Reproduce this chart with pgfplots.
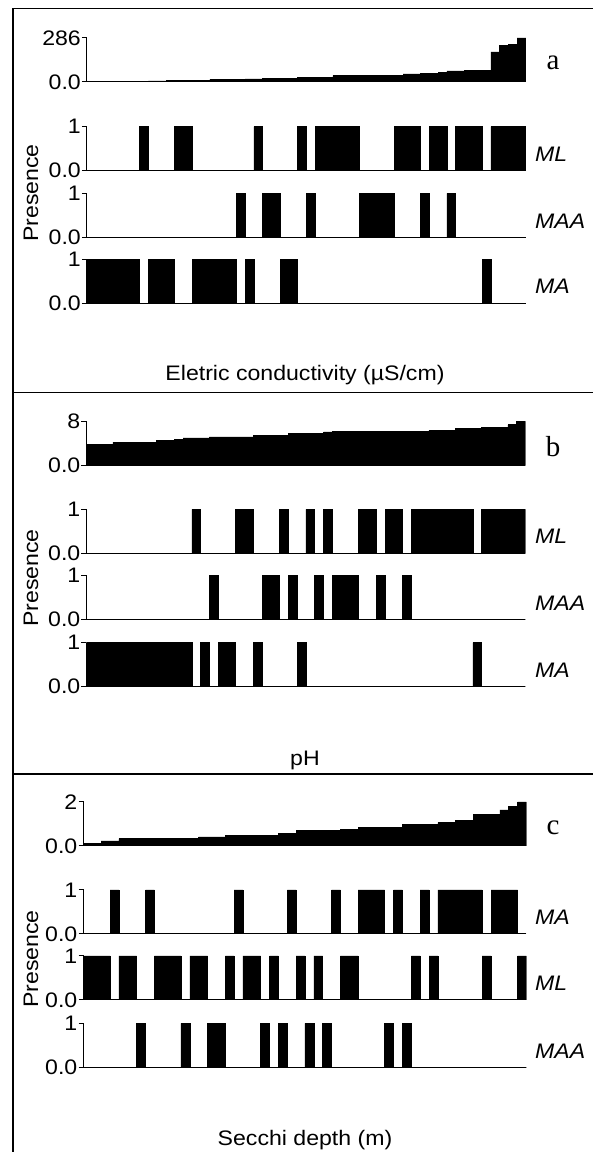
\documentclass[border=0pt]{standalone}
\usepackage{pgfplots}
\pgfplotsset{compat=1.18}
\usepackage{pgfplotstable}
\usepackage{fontspec}
\setmainfont{Liberation Sans}[FakeStretch=1.1]
\newfontfamily\serifletter{Liberation Serif}

% columns: site, gradient value (sorted), presence of ML, MAA, MA
\pgfplotstableread{
x g ML MAA MA
0 3 0 0 1
1 4 0 0 1
2 4 0 0 1
3 5 0 0 1
4 5 0 0 1
5 6 0 0 1
6 6 1 0 0
7 7 0 0 1
8 7 0 0 1
9 8 0 0 1
10 8 1 0 0
11 9 1 0 0
12 9 0 0 1
13 10 0 0 1
14 18 0 0 1
15 18 0 0 1
16 19 0 0 1
17 19 0 1 0
18 20 0 0 1
19 20 1 0 0
20 21 0 1 0
21 21 0 1 0
22 22 0 0 1
23 22 0 0 1
24 31 1 0 0
25 31 0 1 0
26 32 1 0 0
27 32 1 0 0
28 41 1 0 0
29 41 1 0 0
30 42 1 0 0
31 42 0 1 0
32 43 0 1 0
33 43 0 1 0
34 44 0 1 0
35 44 1 0 0
36 53 1 0 0
37 53 1 0 0
38 54 0 1 0
39 55 1 0 0
40 64 1 0 0
41 72 0 1 0
42 72 1 0 0
43 73 1 0 0
44 73 1 0 0
45 74 0 0 1
46 195 1 0 0
47 240 1 0 0
48 244 1 0 0
49 286 1 0 0
50 286 1 0 0
}\tabA

\pgfplotstableread{
x g ML MAA MA
0 3.8 0 0 1
1 3.8 0 0 1
2 3.8 0 0 1
3 4.2 0 0 1
4 4.2 0 0 1
5 4.2 0 0 1
6 4.2 0 0 1
7 4.2 0 0 1
8 4.5 0 0 1
9 4.5 0 0 1
10 4.7 0 0 1
11 5.0 0 0 1
12 5.0 1 0 0
13 5.0 0 0 1
14 5.2 0 1 0
15 5.2 0 0 1
16 5.2 0 0 1
17 5.2 1 0 0
18 5.2 1 0 0
19 5.4 0 0 1
20 5.4 0 1 0
21 5.4 0 1 0
22 5.4 1 0 0
23 5.8 0 1 0
24 5.8 0 0 1
25 5.8 1 0 0
26 5.8 0 1 0
27 6.1 1 0 0
28 6.2 0 1 0
29 6.2 0 1 0
30 6.2 0 1 0
31 6.2 1 0 0
32 6.2 1 0 0
33 6.2 0 1 0
34 6.2 1 0 0
35 6.2 1 0 0
36 6.2 0 1 0
37 6.2 1 0 0
38 6.2 1 0 0
39 6.4 1 0 0
40 6.4 1 0 0
41 6.4 1 0 0
42 6.7 1 0 0
43 6.7 1 0 0
44 6.7 0 0 1
45 6.9 1 0 0
46 6.9 1 0 0
47 6.9 1 0 0
48 7.4 1 0 0
49 8.0 1 0 0
50 8.0 1 0 0
}\tabB

\pgfplotstableread{
x g ML MAA MA
0 0.12 1 0 0
1 0.12 1 0 0
2 0.23 1 0 0
3 0.23 0 0 1
4 0.33 1 0 0
5 0.33 1 0 0
6 0.33 0 1 0
7 0.33 0 0 1
8 0.33 1 0 0
9 0.33 1 0 0
10 0.33 1 0 0
11 0.33 0 1 0
12 0.33 1 0 0
13 0.41 1 0 0
14 0.41 0 1 0
15 0.41 0 1 0
16 0.48 1 0 0
17 0.48 0 0 1
18 0.48 1 0 0
19 0.48 1 0 0
20 0.48 0 1 0
21 0.48 1 0 0
22 0.59 0 1 0
23 0.59 0 0 1
24 0.70 1 0 0
25 0.70 0 1 0
26 0.70 1 0 0
27 0.70 0 1 0
28 0.70 0 0 1
29 0.75 1 0 0
30 0.75 1 0 0
31 0.84 0 0 1
32 0.84 0 0 1
33 0.84 0 0 1
34 0.84 0 1 0
35 0.84 0 0 1
36 0.97 0 1 0
37 0.97 1 0 0
38 0.97 0 0 1
39 0.97 1 0 0
40 1.06 0 0 1
41 1.06 0 0 1
42 1.17 0 0 1
43 1.17 0 0 1
44 1.45 0 0 1
45 1.45 1 0 0
46 1.45 0 0 1
47 1.64 0 0 1
48 1.81 0 0 1
49 2.00 1 0 0
50 2.00 1 0 0
}\tabC

\pgfplotsset{
  strip/.style={
    scale only axis, width=439pt, height=44pt,
    xmin=0, xmax=50, ymin=0, ymax=1,
    axis x line*=bottom, axis y line*=left,
    axis line style={line width=1pt,-},
    xtick=\empty, ytick={0,1}, yticklabels={0.0,1},
    tick align=outside, major tick length=5pt,
    tick style={line width=1pt,black},
    yticklabel style={font=\fontsize{21}{23}\selectfont, inner sep=1pt},
    anchor=south west,
  },
  stripc/.style={strip, width=443pt},
  bar/.style={const plot mark left, fill=black, draw=black, line width=0.6pt, mark=none},
}

\begin{document}
\begin{tikzpicture}[x=1pt,y=1pt]
\useasboundingbox (0,0) rectangle (593,1152);
\draw[line width=1.4pt] (13,0) -- (13,1143.7) -- (600,1143.7);
\draw[line width=1.4pt] (13,759.3) -- (600,759.3);
\draw[line width=1.4pt] (13,378) -- (600,378);

% ---------- panel a ----------
\begin{axis}[strip, at={(87pt,1070pt)}, ymax=286, ytick={0,286}, yticklabels={0.0,286}]
\addplot[bar] table[x=x,y=g]{\tabA} \closedcycle;
\end{axis}
\begin{axis}[strip, at={(87pt,981.3pt)}]
\addplot[bar] table[x=x,y=ML]{\tabA} \closedcycle;
\end{axis}
\begin{axis}[strip, at={(87pt,914.5pt)}]
\addplot[bar] table[x=x,y=MAA]{\tabA} \closedcycle;
\end{axis}
\begin{axis}[strip, at={(87pt,848.7pt)}]
\addplot[bar] table[x=x,y=MA]{\tabA} \closedcycle;
\end{axis}

% ---------- panel b ----------
\begin{axis}[strip, at={(86.5pt,686.5pt)}, ymax=8, ytick={0,8}, yticklabels={0.0,8}]
\addplot[bar] table[x=x,y=g]{\tabB} \closedcycle;
\end{axis}
\begin{axis}[strip, at={(86.5pt,598.7pt)}]
\addplot[bar] table[x=x,y=ML]{\tabB} \closedcycle;
\end{axis}
\begin{axis}[strip, at={(86.5pt,532.5pt)}]
\addplot[bar] table[x=x,y=MAA]{\tabB} \closedcycle;
\end{axis}
\begin{axis}[strip, at={(86.5pt,465.3pt)}]
\addplot[bar] table[x=x,y=MA]{\tabB} \closedcycle;
\end{axis}

% ---------- panel c ----------
\begin{axis}[stripc, at={(83.5pt,306pt)}, ymax=2, ytick={0,2}, yticklabels={0.0,2}]
\addplot[bar] table[x=x,y=g]{\tabC} \closedcycle;
\end{axis}
\begin{axis}[stripc, at={(83.5pt,218pt)}]
\addplot[bar] table[x=x,y=MA]{\tabC} \closedcycle;
\end{axis}
\begin{axis}[stripc, at={(83.5pt,152pt)}]
\addplot[bar] table[x=x,y=ML]{\tabC} \closedcycle;
\end{axis}
\begin{axis}[stripc, at={(83.5pt,84.7pt)}]
\addplot[bar] table[x=x,y=MAA]{\tabC} \closedcycle;
\end{axis}

% ---------- texts ----------
\begin{scope}[every node/.style={font=\fontsize{21}{23}\selectfont, inner sep=0pt}]
\node[font=\serifletter\fontsize{29}{31}\selectfont] at (553,1089) {a};
\node[font=\serifletter\fontsize{29}{31}\selectfont] at (553,705.3) {b};
\node[font=\serifletter\fontsize{29}{31}\selectfont] at (553,323.7) {c};

\node[anchor=west] at (535,998) {\itshape ML};
\node[anchor=west] at (535,931) {\itshape MAA};
\node[anchor=west] at (535,865.5) {\itshape MA};

\node[anchor=west] at (535,615.5) {\itshape ML};
\node[anchor=west] at (535,549) {\itshape MAA};
\node[anchor=west] at (535,482) {\itshape MA};

\node[anchor=west] at (535,234.5) {\itshape MA};
\node[anchor=west] at (535,168.5) {\itshape ML};
\node[anchor=west] at (535,101) {\itshape MAA};

\node[rotate=90] at (31,959) {Presence};
\node[rotate=90] at (31,574) {Presence};
\node[rotate=90] at (31,193) {Presence};

\node at (305,777) {Eletric conductivity (µS/cm)};
\node at (305,392) {pH};
\node at (305,12) {Secchi depth (m)};
\end{scope}
\end{tikzpicture}
\end{document}
